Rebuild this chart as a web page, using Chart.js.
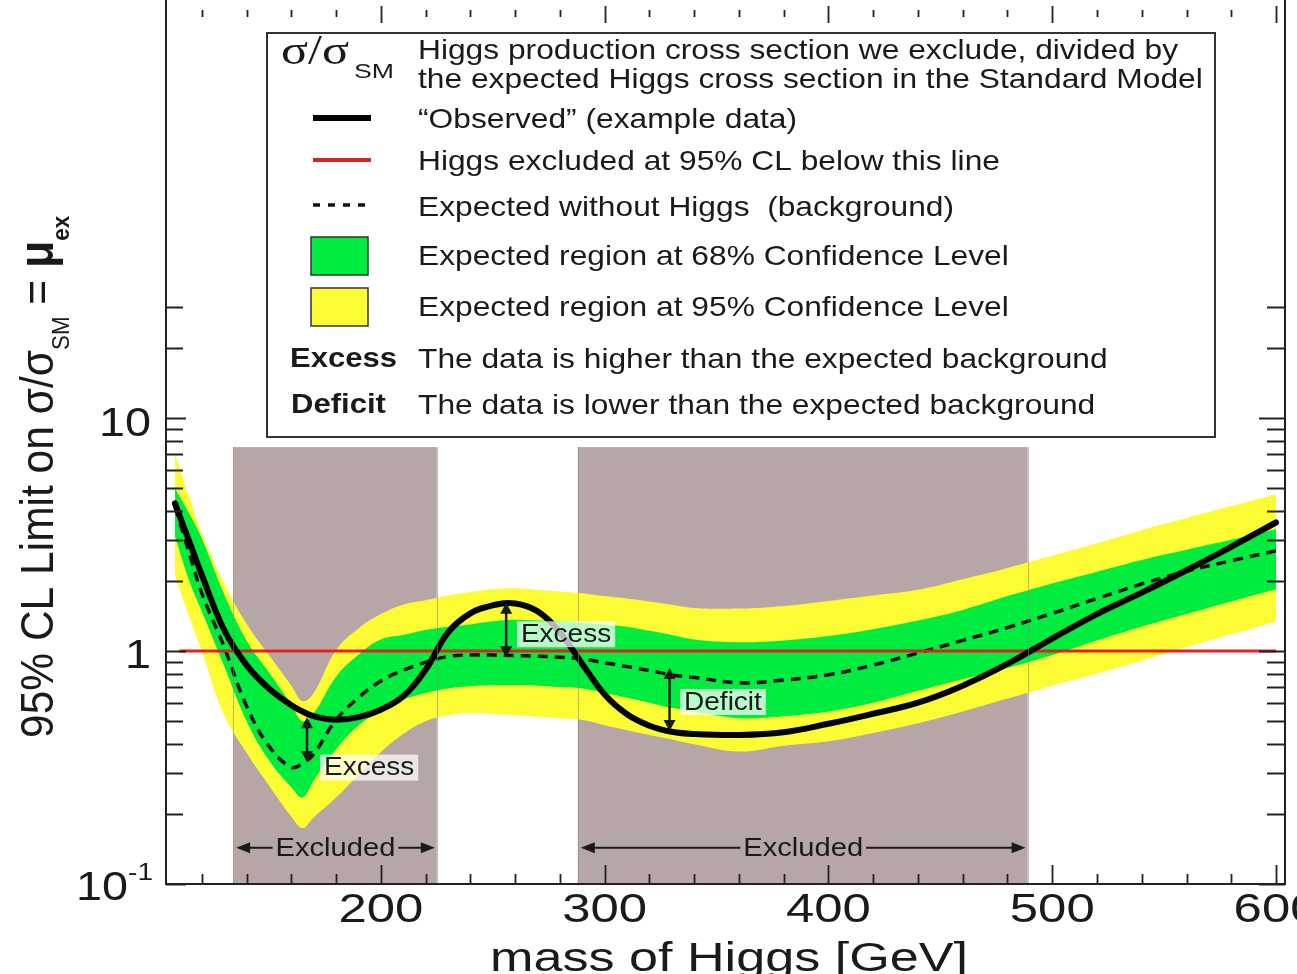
<!DOCTYPE html>
<html>
<head>
<meta charset="utf-8">
<script src="https://cdn.jsdelivr.net/npm/chart.js@4.4.0/dist/chart.umd.min.js"></script>
<style>
  html, body { margin: 0; padding: 0; background: #fff; }
  #wrap { width: 1297px; height: 974px; position: relative; }
</style>
</head>
<body>
<div id="wrap"><canvas id="c"></canvas></div>
<script>
// Higgs mass points (GeV) and the curves
const mass = [108, 115, 120, 130, 140, 150, 160, 165, 170, 180, 190, 200, 210, 220, 230, 240, 250, 260, 270, 280,
              290, 300, 310, 320, 330, 340, 360, 380, 400, 420, 440, 460, 480, 500, 520, 540, 560, 580, 600];
const observed = [4.3, 2.85, 2.12, 1.23, 0.87, 0.69, 0.585, 0.55, 0.525, 0.507, 0.52, 0.56, 0.64, 0.83, 1.2, 1.45, 1.57, 1.60, 1.48, 1.2,
                  0.88, 0.65, 0.535, 0.478, 0.45, 0.44, 0.436, 0.448, 0.487, 0.538, 0.60, 0.71, 0.88, 1.13, 1.44, 1.78, 2.22, 2.8, 3.56];
const expected = [4.15, 2.52, 1.77, 1.04, 0.58, 0.39, 0.317, 0.329, 0.361, 0.507, 0.63, 0.743, 0.826, 0.894, 0.947, 0.96, 0.96, 0.955, 0.95, 0.94,
                  0.922, 0.89, 0.857, 0.824, 0.79, 0.77, 0.73, 0.75, 0.79, 0.87, 0.98, 1.11, 1.26, 1.45, 1.68, 1.94, 2.2, 2.44, 2.69];
const band68Hi = [5.0, 3.8, 3.05, 1.75, 1.11, 0.81, 0.59, 0.50, 0.54, 0.776, 0.964, 1.12, 1.17, 1.23, 1.27, 1.30, 1.34, 1.36, 1.35, 1.34,
                  1.32, 1.30, 1.27, 1.22, 1.17, 1.12, 1.09, 1.11, 1.16, 1.24, 1.35, 1.5, 1.72, 1.95, 2.19, 2.46, 2.72, 3.0, 3.33];
const band68Lo = [3.1, 1.93, 1.48, 0.86, 0.50, 0.34, 0.26, 0.235, 0.278, 0.378, 0.479, 0.553, 0.617, 0.66, 0.69, 0.705, 0.712, 0.715, 0.71, 0.70,
                  0.69, 0.66, 0.63, 0.60, 0.57, 0.55, 0.515, 0.525, 0.55, 0.60, 0.675, 0.757, 0.845, 0.96, 1.11, 1.27, 1.44, 1.63, 1.84];
const band95Hi = [7.0, 4.4, 3.2, 1.95, 1.31, 0.96, 0.71, 0.61, 0.66, 1.01, 1.25, 1.44, 1.58, 1.65, 1.73, 1.79, 1.84, 1.86, 1.83, 1.80,
                  1.77, 1.72, 1.68, 1.63, 1.58, 1.53, 1.52, 1.56, 1.64, 1.73, 1.83, 2.03, 2.27, 2.56, 2.9, 3.3, 3.72, 4.19, 4.71];
const band95Lo = [2.1, 1.35, 1.0, 0.53, 0.366, 0.265, 0.195, 0.174, 0.193, 0.235, 0.294, 0.368, 0.44, 0.50, 0.53, 0.542, 0.537, 0.53, 0.522, 0.514,
                  0.505, 0.48, 0.457, 0.436, 0.417, 0.398, 0.37, 0.392, 0.41, 0.445, 0.49, 0.55, 0.625, 0.71, 0.80, 0.91, 1.04, 1.18, 1.34];

// red 95% CL line
const redMass = [110, 600];
const redLevel = [1, 1];

// excluded mass ranges (grey boxes)
const excludedLo = [134, 288];
const excludedHi = [225, 489];
const excludedTop = 7.5;
const excludedArrowLevel = 0.143;

// excess / deficit markers
const markMass = [167, 256, 329];
const markTop = [0.52, 1.61, 0.845];
const markBottom = [0.334, 0.94, 0.454];
const markText = ['Excess', 'Excess', 'Deficit'];
const markLabelMass = [172.8, 260.8, 333.7];
const markLabelLevel = [0.316, 1.18, 0.604];

// axis ticks
const xTicks = [200, 300, 400, 500, 600];
const yTicks = [0.1, 1, 10];
const yMinorTicks = [0.2, 0.3, 0.4, 0.5, 0.6, 0.7, 0.8, 0.9, 2, 3, 4, 5, 6, 7, 8, 9, 20, 30];

const GREEN = 'rgb(0,236,62)';
const YELLOW = 'rgb(252,252,52)';
const GREY = 'rgb(182,166,166)';
const INK = '#1a1a1a';
const SANS = '"Liberation Sans", Arial, Helvetica, sans-serif';

const pts = ys => mass.map((m, i) => ({ x: m, y: ys[i] }));

function stretchText(ctx, str, x, y, font, sx, align, base) {
  ctx.save();
  ctx.font = font;
  ctx.fillStyle = INK;
  ctx.textBaseline = base || 'alphabetic';
  ctx.textAlign = 'left';
  const w = ctx.measureText(str).width * sx;
  let x0 = x;
  if (align === 'center') x0 = x - w / 2;
  else if (align === 'right') x0 = x - w;
  ctx.translate(x0, y);
  ctx.scale(sx, 1);
  ctx.fillText(str, 0, 0);
  ctx.restore();
  return w;
}

function fitScale(ctx, str, font, width) {
  ctx.font = font;
  return width / ctx.measureText(str).width;
}

function head(ctx, x, y, dx, dy, len, half) {
  ctx.beginPath();
  ctx.moveTo(x, y);
  ctx.lineTo(x - dx * len - dy * half, y - dy * len + dx * half);
  ctx.lineTo(x - dx * len + dy * half, y - dy * len - dx * half);
  ctx.closePath();
  ctx.fill();
}

const decor = {
  id: 'decor',
  beforeDraw(chart) {
    const ctx = chart.ctx;
    ctx.save();
    ctx.fillStyle = '#fff';
    ctx.fillRect(0, 0, chart.width, chart.height);
    ctx.restore();
  },
  beforeDatasetsDraw(chart) {
    const { ctx, scales: { x, y } } = chart;
    ctx.save();
    ctx.fillStyle = GREY;
    excludedLo.forEach((lo, i) => {
      const x0 = x.getPixelForValue(lo), x1 = x.getPixelForValue(excludedHi[i]);
      const y0 = y.getPixelForValue(excludedTop), y1 = chart.chartArea.bottom;
      ctx.fillRect(x0, y0, x1 - x0, y1 - y0);
    });
    ctx.restore();
  },
  afterDatasetsDraw(chart) {
    const { ctx, chartArea: ca, scales: { x, y } } = chart;
    ctx.save();

    // faint box edges over the bands
    ctx.strokeStyle = 'rgba(150,128,128,0.55)';
    ctx.lineWidth = 1;
    excludedLo.forEach((lo, i) => {
      [lo, excludedHi[i]].forEach(v => {
        const px = Math.round(x.getPixelForValue(v)) + 0.5;
        ctx.beginPath();
        ctx.moveTo(px, y.getPixelForValue(excludedTop));
        ctx.lineTo(px, ca.bottom);
        ctx.stroke();
      });
    });

    // excess / deficit arrows and labels
    const MF = '25px ' + SANS;
    ctx.fillStyle = INK;
    ctx.strokeStyle = INK;
    markMass.forEach((m, i) => {
      const px = x.getPixelForValue(m);
      const yt = y.getPixelForValue(markTop[i]), yb = y.getPixelForValue(markBottom[i]);
      ctx.lineWidth = 2.5;
      ctx.beginPath();
      ctx.moveTo(px, yt + 8);
      ctx.lineTo(px, yb - 8);
      ctx.stroke();
      head(ctx, px, yt, 0, -1, 11, 6);
      head(ctx, px, yb, 0, 1, 11, 6);
      const lx = x.getPixelForValue(markLabelMass[i]), ly = y.getPixelForValue(markLabelLevel[i]);
      ctx.font = MF;
      const w = ctx.measureText(markText[i]).width * 1.12;
      ctx.fillStyle = 'rgba(255,255,255,0.72)';
      ctx.fillRect(lx, ly - 13, w + 8, 26);
      ctx.fillStyle = INK;
      stretchText(ctx, markText[i], lx + 4, ly + 1, MF, 1.12, 'left', 'middle');
    });

    // "Excluded" arrows
    const EF = '26px ' + SANS;
    excludedLo.forEach((lo, i) => {
      const x0 = x.getPixelForValue(lo) + 3, x1 = x.getPixelForValue(excludedHi[i]) - 2;
      const py = y.getPixelForValue(excludedArrowLevel);
      const mid = (x0 + x1) / 2;
      ctx.font = EF;
      const w = ctx.measureText('Excluded').width * 1.12;
      stretchText(ctx, 'Excluded', mid, py + 1, EF, 1.12, 'center', 'middle');
      ctx.lineWidth = 2;
      ctx.beginPath();
      ctx.moveTo(x0 + 10, py); ctx.lineTo(mid - w / 2 - 3, py);
      ctx.moveTo(mid + w / 2 + 3, py); ctx.lineTo(x1 - 10, py);
      ctx.stroke();
      head(ctx, x0, py, -1, 0, 14, 5.5);
      head(ctx, x1, py, 1, 0, 14, 5.5);
    });

    // legend box
    ctx.fillStyle = '#fff';
    ctx.fillRect(267, 33, 948, 404);
    ctx.strokeStyle = '#333';
    ctx.lineWidth = 2;
    ctx.strokeRect(267, 33, 948, 404);
    const LF = '28px ' + SANS;
    const line1 = 'Higgs production cross section we exclude, divided by';
    const lsx = fitScale(ctx, line1, LF, 760);
    const tx = 418;
    // sigma / sigma_SM symbol
    const SF = '42px "Liberation Serif", "Times New Roman", serif';
    stretchText(ctx, 'σ/σ', 281, 64, SF, fitScale(ctx, 'σ/σ', SF, 68), 'left');
    stretchText(ctx, 'SM', 354, 78, '21px ' + SANS, fitScale(ctx, 'SM', '21px ' + SANS, 40), 'left');
    stretchText(ctx, line1, tx, 51, LF, lsx, 'left', 'middle');
    stretchText(ctx, 'the expected Higgs cross section in the Standard Model', tx, 80, LF, lsx, 'left', 'middle');
    stretchText(ctx, '\u201CObserved\u201D (example data)', tx, 120, LF, lsx, 'left', 'middle');
    stretchText(ctx, 'Higgs excluded at 95% CL below this line', tx, 162, LF, lsx, 'left', 'middle');
    stretchText(ctx, 'Expected without Higgs  (background)', tx, 208, LF, lsx, 'left', 'middle');
    stretchText(ctx, 'Expected region at 68% Confidence Level', tx, 257, LF, lsx, 'left', 'middle');
    stretchText(ctx, 'Expected region at 95% Confidence Level', tx, 308, LF, lsx, 'left', 'middle');
    const BF = 'bold 27px ' + SANS;
    const bsx = fitScale(ctx, 'Excess', BF, 107);
    stretchText(ctx, 'Excess', 290, 360, BF, bsx, 'left', 'middle');
    stretchText(ctx, 'The data is higher than the expected background', tx, 360, LF, lsx, 'left', 'middle');
    stretchText(ctx, 'Deficit', 291, 406, BF, bsx, 'left', 'middle');
    stretchText(ctx, 'The data is lower than the expected background', tx, 406, LF, lsx, 'left', 'middle');
    // legend samples
    ctx.lineCap = 'butt';
    ctx.strokeStyle = '#000'; ctx.lineWidth = 6;
    ctx.beginPath(); ctx.moveTo(313, 118); ctx.lineTo(371, 118); ctx.stroke();
    ctx.strokeStyle = '#d82020'; ctx.lineWidth = 4;
    ctx.beginPath(); ctx.moveTo(313, 160); ctx.lineTo(371, 160); ctx.stroke();
    ctx.strokeStyle = '#111'; ctx.lineWidth = 3.5; ctx.setLineDash([7, 8]);
    ctx.beginPath(); ctx.moveTo(313, 205); ctx.lineTo(371, 205); ctx.stroke();
    ctx.setLineDash([]);
    ctx.lineWidth = 1.5; ctx.strokeStyle = '#333';
    ctx.fillStyle = GREEN; ctx.fillRect(311, 237, 57, 38); ctx.strokeRect(311, 237, 57, 38);
    ctx.fillStyle = YELLOW; ctx.fillRect(311, 288, 57, 38); ctx.strokeRect(311, 288, 57, 38);

    // frame
    ctx.strokeStyle = '#222';
    ctx.lineWidth = 2;
    ctx.beginPath();
    ctx.moveTo(ca.left, ca.top); ctx.lineTo(ca.left, ca.bottom);
    ctx.lineTo(ca.right, ca.bottom); ctx.lineTo(ca.right, ca.top);
    ctx.stroke();

    // x ticks (bottom and top, inward)
    ctx.lineWidth = 1.8;
    for (let v = 120; v <= 600; v += 20) {
      const px = Math.round(x.getPixelForValue(v)) + 0.5;
      const major = xTicks.includes(v);
      ctx.beginPath();
      ctx.moveTo(px, ca.bottom); ctx.lineTo(px, ca.bottom - (major ? 19 : 10));
      ctx.moveTo(px, ca.top + (major ? 6 : 10)); ctx.lineTo(px, ca.top + (major ? 23 : 17));
      ctx.stroke();
    }
    // y ticks (left and right, inward)
    yTicks.concat(yMinorTicks).forEach(v => {
      const py = Math.round(y.getPixelForValue(v)) + 0.5;
      const major = yTicks.includes(v);
      ctx.beginPath();
      ctx.moveTo(ca.left, py); ctx.lineTo(ca.left + (major ? 20 : 17), py);
      ctx.moveTo(ca.right, py); ctx.lineTo(ca.right - (major ? 26 : 18), py);
      ctx.stroke();
    });

    // axis texts
    const AF = '41px ' + SANS;
    const title = 'mass of Higgs [GeV]';
    const asx = fitScale(ctx, title, AF, 478);
    stretchText(ctx, title, 729, 971, AF, asx, 'center');
    const TF = '40px ' + SANS;
    xTicks.forEach(v => {
      stretchText(ctx, String(v), x.getPixelForValue(v), 922, TF, asx, 'center');
    });
    // y tick labels
    const ysx = fitScale(ctx, '10', TF, 52);
    stretchText(ctx, '10', 151, y.getPixelForValue(10) + 18, TF, ysx, 'right');
    stretchText(ctx, '1', 151, y.getPixelForValue(1) + 17, TF, ysx, 'right');
    const supW = stretchText(ctx, '-1', 153, y.getPixelForValue(0.1) - 4, '24px ' + SANS, ysx, 'right');
    stretchText(ctx, '10', 153 - supW, y.getPixelForValue(0.1) + 16, TF, ysx, 'right');

    // rotated y title
    ctx.save();
    ctx.translate(53, 738);
    ctx.rotate(-Math.PI / 2);
    ctx.fillStyle = INK;
    ctx.textBaseline = 'alphabetic';
    const F1 = '40px ' + SANS;
    const main = '95% CL Limit on σ/σ';
    const lx = fitScale(ctx, main, F1, 388);
    ctx.scale(lx, 1.15);
    let p = 0;
    const put = (s, font, dy) => {
      ctx.font = font;
      ctx.fillText(s, p, dy);
      p += ctx.measureText(s).width;
    };
    put(main, F1, 0);
    put('SM', '21px ' + SANS, 14);
    put(' = ', F1, 0);
    put('μ', 'bold 42px ' + SANS, 0);
    put('ex', 'bold 21px ' + SANS, 14);
    ctx.restore();

    ctx.restore();
  }
};

const smooth = 0.4;

new Chart(document.getElementById('c'), {
  type: 'line',
  data: {
    datasets: [
      { label: 'Observed', data: pts(observed), borderColor: '#000', borderWidth: 6, order: 0, tension: smooth,
        borderJoinStyle: 'round', borderCapStyle: 'round' },
      { label: '95% CL', data: redMass.map((m, i) => ({ x: m, y: redLevel[i] })), borderColor: '#e02222', borderWidth: 3, order: 1 },
      { label: 'Expected', data: pts(expected), borderColor: '#111', borderWidth: 3.5, borderDash: [10, 7], order: 2, tension: smooth },
      { label: '68% hi', data: pts(band68Hi), borderColor: 'rgba(0,0,0,0)', backgroundColor: GREEN, fill: '+1', order: 3, tension: smooth },
      { label: '68% lo', data: pts(band68Lo), borderColor: 'rgba(0,0,0,0)', order: 4, tension: smooth },
      { label: '95% hi', data: pts(band95Hi), borderColor: 'rgba(0,0,0,0)', backgroundColor: YELLOW, fill: '+1', order: 5, tension: smooth },
      { label: '95% lo', data: pts(band95Lo), borderColor: 'rgba(0,0,0,0)', order: 6, tension: smooth }
    ]
  },
  options: {
    responsive: true,
    maintainAspectRatio: false,
    animation: false,
    devicePixelRatio: 1,
    layout: { padding: { left: 166, right: 12, top: 0, bottom: 90 } },
    elements: { point: { radius: 0, hoverRadius: 0 } },
    plugins: { legend: { display: false }, tooltip: { enabled: false } },
    scales: {
      x: { type: 'linear', min: 104, max: 604, bounds: 'data', display: false },
      y: { type: 'logarithmic', min: 0.1, max: 622, bounds: 'data', display: false }
    }
  },
  plugins: [decor]
});
</script>
</body>
</html>
